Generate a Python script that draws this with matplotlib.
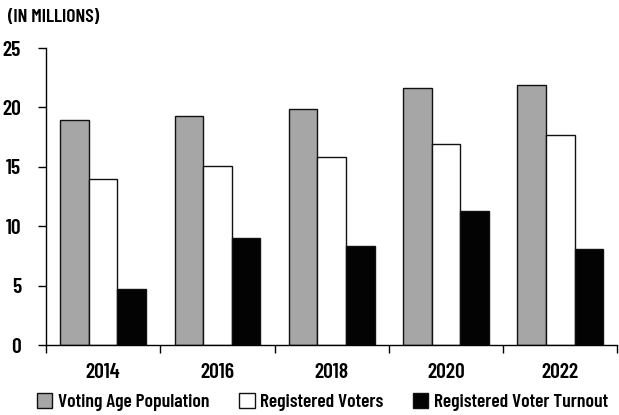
import numpy as np
import matplotlib.pyplot as plt
from matplotlib.ticker import FixedLocator

plt.rcParams['font.family'] = ['Barlow Condensed', 'DejaVu Sans']
plt.rcParams['font.weight'] = 'semibold'

years = ['2014', '2016', '2018', '2020', '2022']
voting_age = [18.9, 19.3, 19.9, 21.6, 21.9]
registered = [14.0, 15.1, 15.8, 16.9, 17.7]
turnout = [4.7, 9.0, 8.3, 11.3, 8.1]

series_names = ['Voting Age Population', 'Registered Voters', 'Registered Voter Turnout']
colors = ['#a6a6a6', '#ffffff', '#030303']

fig = plt.figure(figsize=(6.19, 4.15), dpi=100)
ax = fig.add_axes([46 / 619, 70 / 415, 571.5 / 619, 297 / 415])

x = np.arange(len(years))
w = 0.25
for i, (vals, name, c) in enumerate(zip([voting_age, registered, turnout], series_names, colors)):
    ax.bar(x + (i - 1) * w, vals, width=w, color=c, edgecolor='#111111',
           linewidth=1.0, label=name)

ax.set_xlim(-0.5, len(years) - 0.5)
ax.set_ylim(0, 25)
ax.set_yticks([0, 5, 10, 15, 20, 25])
ax.set_xticks(x)
ax.set_xticklabels(years)
ax.tick_params(axis='x', which='major', length=0, pad=13, labelsize=15.5)
ax.xaxis.set_minor_locator(FixedLocator(np.arange(-0.5, len(years), 1.0)))
ax.tick_params(axis='x', which='minor', length=6, width=1, direction='out')
ax.tick_params(axis='y', length=6, width=1, pad=12, labelsize=15.5)

for s in ['top', 'right']:
    ax.spines[s].set_visible(False)
for s in ['left', 'bottom']:
    ax.spines[s].set_linewidth(1)

fig.text(8 / 619, 1 - 18 / 415, '(IN MILLIONS)', fontsize=14, va='center', ha='left')

ax.legend(loc='center', bbox_to_anchor=(0.484, -0.192), ncol=3, frameon=False,
          fontsize=14, handlelength=0.8, handleheight=0.8, handletextpad=0.3,
          columnspacing=1.5)

fig.savefig('out.png', dpi=100)
